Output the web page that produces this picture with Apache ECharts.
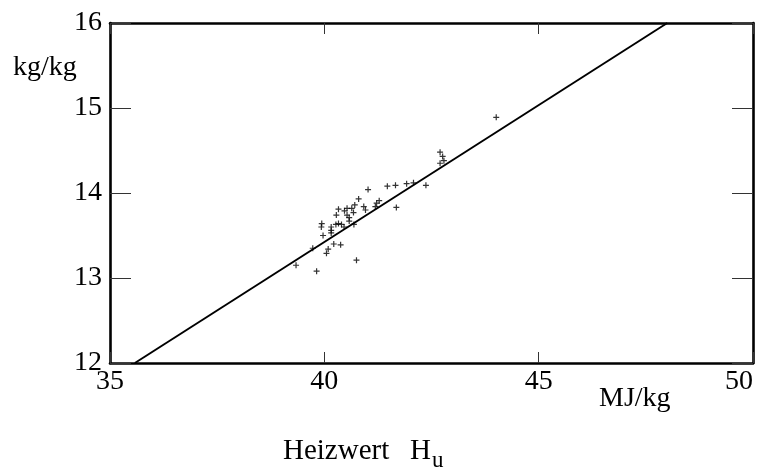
<!DOCTYPE html>
<html>
<head>
<meta charset="utf-8">
<script src="https://cdn.jsdelivr.net/npm/echarts@6/dist/echarts.min.js"></script>
<style>html,body{margin:0;padding:0;background:#fff;}#c{width:760px;height:471px;}</style>
</head>
<body>
<div id="c"></div>
<script>
// Heizwert Hu (MJ/kg) vs. Luftbedarf (kg/kg)
var heizwert = [44.01,42.70,42.76,42.79,42.70,41.02,41.47,41.66,41.92,42.08,42.37,40.80,40.71,40.92,40.96,41.28,41.22,41.19,40.33,40.53,40.64,40.47,40.68,40.28,40.53,40.58,40.58,40.69,41.68,39.94,39.93,40.16,40.16,40.16,40.27,40.33,40.40,40.46,39.97,40.22,40.38,40.09,40.05,39.73,40.75,39.34,39.82];
var luftbedarf = [14.89,14.48,14.43,14.38,14.35,14.04,14.08,14.09,14.11,14.12,14.09,13.93,13.86,13.84,13.80,13.91,13.88,13.84,13.81,13.82,13.82,13.79,13.77,13.74,13.74,13.71,13.67,13.63,13.83,13.64,13.60,13.60,13.56,13.53,13.63,13.64,13.63,13.60,13.50,13.40,13.39,13.34,13.29,13.35,13.21,13.15,13.08];
var lineX = [35.58, 48.0];
var lineY = [12, 16];
var xTicks = [35, 40, 45, 50];
var yTicks = [12, 13, 14, 15, 16];

var FONT = '"Liberation Serif", "Times New Roman", serif';
var pts = heizwert.map(function (x, i) { return [x, luftbedarf[i]]; });
var linePts = lineX.map(function (x, i) { return [x, lineY[i]]; });

var chart = echarts.init(document.getElementById('c'), null, {renderer: 'canvas'});
var axisLineStyle = {show: true, lineStyle: {color: '#000', width: 2.6}};
chart.setOption({
  animation: false,
  backgroundColor: '#fff',
  grid: {left: 110, right: 7, top: 23, bottom: 108, containLabel: false},
  xAxis: [{
    type: 'value', min: xTicks[0], max: xTicks[xTicks.length - 1], interval: 5, position: 'bottom',
    axisLine: axisLineStyle,
    axisTick: {show: true, inside: true, length: 11, lineStyle: {color: '#333', width: 1}},
    axisLabel: {show: true, color: '#000', fontFamily: FONT, fontSize: 28, margin: 5, alignMaxLabel: 'right'},
    splitLine: {show: false}
  }, {
    type: 'value', min: xTicks[0], max: xTicks[xTicks.length - 1], interval: 5, position: 'top',
    axisLine: axisLineStyle,
    axisTick: {show: true, inside: true, length: 11, lineStyle: {color: '#333', width: 1}},
    axisLabel: {show: false}, splitLine: {show: false}
  }],
  yAxis: [{
    type: 'value', min: yTicks[0], max: yTicks[yTicks.length - 1], interval: 1, position: 'left',
    axisLine: axisLineStyle,
    axisTick: {show: true, inside: true, length: 21, lineStyle: {color: '#333', width: 1}},
    axisLabel: {show: true, color: '#000', fontFamily: FONT, fontSize: 28, margin: 8},
    splitLine: {show: false}
  }, {
    type: 'value', min: yTicks[0], max: yTicks[yTicks.length - 1], interval: 1, position: 'right',
    axisLine: axisLineStyle,
    axisTick: {show: true, inside: true, length: 21, lineStyle: {color: '#333', width: 1}},
    axisLabel: {show: false}, splitLine: {show: false}
  }],
  series: [{
    type: 'line', data: linePts, xAxisIndex: 0, yAxisIndex: 0,
    showSymbol: false, symbol: 'none',
    lineStyle: {color: '#000', width: 2}, z: 2
  }, {
    type: 'scatter', data: pts, xAxisIndex: 0, yAxisIndex: 0,
    symbol: 'path://M2.4,0H3.6V2.4H6V3.6H3.6V6H2.4V3.6H0V2.4H2.4Z', symbolSize: 6,
    itemStyle: {color: '#000'}, z: 3
  }],
  graphic: [
    {type: 'text', left: 13, top: 54, style: {text: 'kg/kg', font: '28px ' + FONT, fill: '#000'}},
    {type: 'text', left: 599, top: 385, style: {text: 'MJ/kg', font: '28px ' + FONT, fill: '#000'}},
    {type: 'text', left: 283, top: 437, style: {text: 'Heizwert', font: '29px ' + FONT, fill: '#000'}},
    {type: 'text', left: 410, top: 437, style: {text: 'H', font: '29px ' + FONT, fill: '#000'}},
    {type: 'text', left: 432, top: 449, style: {text: 'u', font: '23px ' + FONT, fill: '#000'}}
  ]
});
</script>
</body>
</html>
